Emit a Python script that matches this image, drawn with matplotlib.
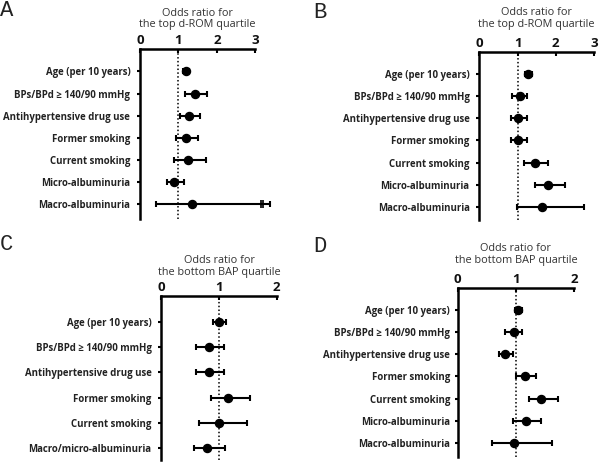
import matplotlib.pyplot as plt

plt.rcParams['font.family'] = ['Open Sans', 'DejaVu Sans']

labels_ab = ["Age (per 10 years)", "BPs/BPd \u2265 140/90 mmHg", "Antihypertensive drug use",
             "Former smoking", "Current smoking", "Micro-albuminuria", "Macro-albuminuria"]
labels_c = ["Age (per 10 years)", "BPs/BPd \u2265 140/90 mmHg", "Antihypertensive drug use",
            "Former smoking", "Current smoking", "Macro/micro-albuminuria"]
labels_d = labels_ab

# A: top d-ROM quartile (model 1)
a_or = [1.19, 1.43, 1.27, 1.20, 1.26, 0.89, 1.36]
a_lo = [1.11, 1.17, 1.04, 0.94, 0.89, 0.69, 0.41]
a_hi = [1.28, 1.75, 1.56, 1.52, 1.73, 1.14, 3.38]
a_break = [3.14, 3.21]

# B: top d-ROM quartile (model 2)
b_or = [1.27, 1.06, 1.02, 1.02, 1.46, 1.79, 1.65]
b_lo = [1.19, 0.86, 0.83, 0.83, 1.17, 1.45, 0.99]
b_hi = [1.37, 1.26, 1.24, 1.24, 1.80, 2.24, 2.75]

# C: bottom BAP quartile (model 1)
c_or = [1.00, 0.82, 0.82, 1.16, 1.00, 0.79]
c_lo = [0.89, 0.61, 0.61, 0.86, 0.66, 0.57]
c_hi = [1.12, 1.08, 1.08, 1.53, 1.48, 1.10]

# D: bottom BAP quartile (model 2)
d_or = [1.04, 0.97, 0.82, 1.16, 1.44, 1.17, 0.97]
d_lo = [0.98, 0.82, 0.71, 1.00, 1.22, 0.95, 0.59]
d_hi = [1.11, 1.11, 0.95, 1.34, 1.72, 1.43, 1.62]

title_rom = "Odds ratio for\nthe top d-ROM quartile"
title_bap = "Odds ratio for\nthe bottom BAP quartile"

W, H = 600, 467
fig = plt.figure(figsize=(W / 100, H / 100), dpi=100)


def panel(box, ylim, labels, ors, lo, hi, xmax, title, letter, letter_xy, title_y, ypad):
    left, right, top, bottom = box
    ax = fig.add_axes([left / W, 1 - bottom / H, (right - left) / W, (bottom - top) / H])
    rows = list(range(len(labels)))
    err = [[o - l for o, l in zip(ors, lo)], [h - o for o, h in zip(ors, hi)]]
    ax.axvline(1, color='black', lw=1.1, ls=(0, (1, 1.5)), zorder=1)
    ax.errorbar(ors, rows, xerr=err, fmt='o', color='black', ms=5.8, elinewidth=1.5,
                capsize=2.2, capthick=1.5, zorder=3, clip_on=False)
    ax.set_xlim(0, xmax)
    ax.set_ylim(*ylim)
    ax.xaxis.tick_top()
    ax.set_xticks(range(xmax + 1))
    ax.tick_params(axis='x', direction='in', length=3, width=1.5, pad=1.5, labelsize=9.5)
    for t in ax.get_xticklabels():
        t.set_color('#111111')
        t.set_fontweight('bold')
    ax.set_yticks(rows)
    ax.set_yticklabels(labels, fontsize=6.95, fontweight='bold', color='#222222')
    ax.tick_params(axis='y', direction='out', length=2, width=1.5, pad=ypad)
    for s in ['right', 'bottom']:
        ax.spines[s].set_visible(False)
    for s in ['left', 'top']:
        ax.spines[s].set_linewidth(1.8)
    fig.text((left + right) / 2 / W, 1 - title_y / H, title, ha='center', va='center',
             fontsize=7.8, color='#333333', linespacing=1.1)
    fig.text(letter_xy[0] / W, 1 - letter_xy[1] / H, letter, family=['Liberation Mono'],
             fontsize=16, ha='left', va='center', color='#222222')
    return ax


ax_a = panel((140, 255.3, 48.7, 219), (6.68, -1.03), labels_ab, a_or, a_lo, a_hi, 3,
             title_rom, "A", (0, 11), 19, 5)
ax_a.vlines(a_break, 6 - 0.17, 6 + 0.17, color='black', lw=1.2, clip_on=False)

panel((479.3, 594, 51.7, 220), (6.6, -1.02), labels_ab, b_or, b_lo, b_hi, 3,
      title_rom, "B", (313, 12), 18.5, 5)
panel((161.3, 276.7, 296, 460), (5.46, -1.02), labels_c, c_or, c_lo, c_hi, 2,
      title_bap, "C", (0, 245), 266.5, 5)
panel((457.7, 574, 287.7, 456.7), (6.63, -1.01), labels_d, d_or, d_lo, d_hi, 2,
      title_bap, "D", (313, 247), 254.5, 3.5)

fig.savefig('out.png', dpi=100)
